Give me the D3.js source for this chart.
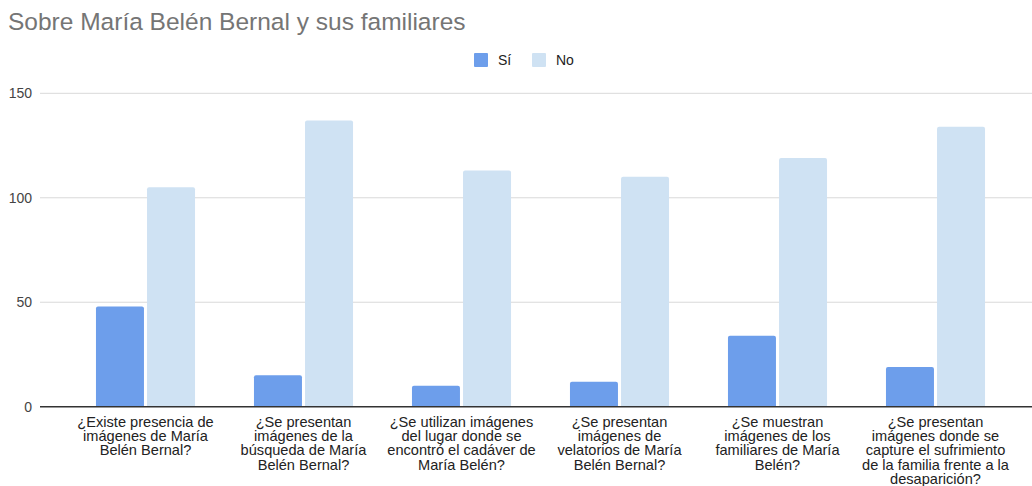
<!DOCTYPE html>
<html lang="es">

<head>
    <meta charset="UTF-8">
    <title>Sobre María Belén Bernal</title>
    <style>
        body {
            margin: 0;
            background: #fff;
        }

        text {
            font-family: "Liberation Sans", Arial, sans-serif;
        }

        .title {
            font-size: 24.5px;
            fill: #757575;
        }

        .legend text {
            font-size: 14px;
            fill: #222;
        }

        .ytick {
            font-size: 14px;
            fill: #444;
        }

        .xlabel {
            font-size: 14.6px;
            fill: #222;
        }
    </style>
</head>

<body>
    <svg width="1032" height="486"></svg>
    <script src="https://d3js.org/d3.v7.min.js"></script>
    <script>
        // data
        let categories = [
            ["¿Existe presencia de", "imágenes de María", "Belén Bernal?"],
            ["¿Se presentan", "imágenes de la", "búsqueda de María", "Belén Bernal?"],
            ["¿Se utilizan imágenes", "del lugar donde se", "encontró el cadáver de", "María Belén?"],
            ["¿Se presentan", "imágenes de", "velatorios de María", "Belén Bernal?"],
            ["¿Se muestran", "imágenes de los", "familiares de María", "Belén?"],
            ["¿Se presentan", "imágenes donde se", "capture el sufrimiento", "de la familia frente a la", "desaparición?"]
        ];
        let seriesNames = ["Sí", "No"];
        let siValues = [48, 15, 10, 12, 34, 19];
        let noValues = [105, 137, 113, 110, 119, 134];
        let yTicks = [0, 50, 100, 150];
        let colors = ["#6d9eeb", "#cfe2f3"];

        let svg = d3.select("svg");

        let y = d3.scaleLinear().domain([0, 150]).range([406.7, 93.3]);

        let x0 = d3.scaleBand()
            .domain(d3.range(categories.length))
            .range([66.5, 1014.5])
            .paddingInner(0.373)
            .paddingOuter(0.1865);

        let x1 = d3.scaleBand()
            .domain(seriesNames)
            .range([0, x0.bandwidth()])
            .paddingInner(0.06);

        // title
        svg.append("text")
            .attr("class", "title")
            .attr("x", 8)
            .attr("y", 30)
            .text("Sobre María Belén Bernal y sus familiares");

        // legend
        let legend = svg.append("g").attr("class", "legend");
        let legendX = [474, 532];
        seriesNames.forEach((s, i) => {
            legend.append("rect")
                .attr("x", legendX[i])
                .attr("y", 53)
                .attr("width", 14)
                .attr("height", 14)
                .attr("rx", 1)
                .attr("fill", colors[i]);
            legend.append("text")
                .attr("x", legendX[i] + 24)
                .attr("y", 65)
                .text(s);
        });

        // gridlines
        svg.append("g")
            .selectAll("line")
            .data(yTicks.filter(d => d > 0))
            .join("line")
            .attr("x1", 40)
            .attr("x2", 1032)
            .attr("y1", d => y(d))
            .attr("y2", d => y(d))
            .attr("stroke", "#d9d9d9")
            .attr("stroke-width", 1);

        // y tick labels
        svg.append("g")
            .selectAll("text")
            .data(yTicks)
            .join("text")
            .attr("class", "ytick")
            .attr("x", 32)
            .attr("y", d => y(d))
            .attr("dy", "0.35em")
            .attr("text-anchor", "end")
            .text(d => d);

        // bars
        let rows = categories.map((c, i) => ({ i: i, vals: [siValues[i], noValues[i]] }));

        let groups = svg.append("g")
            .selectAll("g")
            .data(rows)
            .join("g")
            .attr("transform", d => `translate(${x0(d.i)},0)`);

        groups.selectAll("path")
            .data(d => d.vals.map((v, k) => ({ key: seriesNames[k], v: v, k: k })))
            .join("path")
            .attr("fill", d => colors[d.k])
            .attr("d", d => {
                let bx = x1(d.key), w = x1.bandwidth(), top = y(d.v), bot = y(0), r = 2;
                return `M${bx},${bot} V${top + r} Q${bx},${top} ${bx + r},${top} H${bx + w - r} Q${bx + w},${top} ${bx + w},${top + r} V${bot} Z`;
            });

        // baseline
        svg.append("line")
            .attr("x1", 40)
            .attr("x2", 1032)
            .attr("y1", y(0))
            .attr("y2", y(0))
            .attr("stroke", "#333")
            .attr("stroke-width", 1.5);

        // category labels
        svg.append("g")
            .selectAll("text")
            .data(categories)
            .join("text")
            .attr("class", "xlabel")
            .attr("text-anchor", "middle")
            .attr("x", (d, i) => x0(i) + x0.bandwidth() / 2)
            .attr("y", 427)
            .selectAll("tspan")
            .data(d => d)
            .join("tspan")
            .attr("x", function () { return this.parentNode.getAttribute("x"); })
            .attr("dy", (d, i) => i === 0 ? 0 : 14.2)
            .text(d => d);
    </script>
</body>

</html>
